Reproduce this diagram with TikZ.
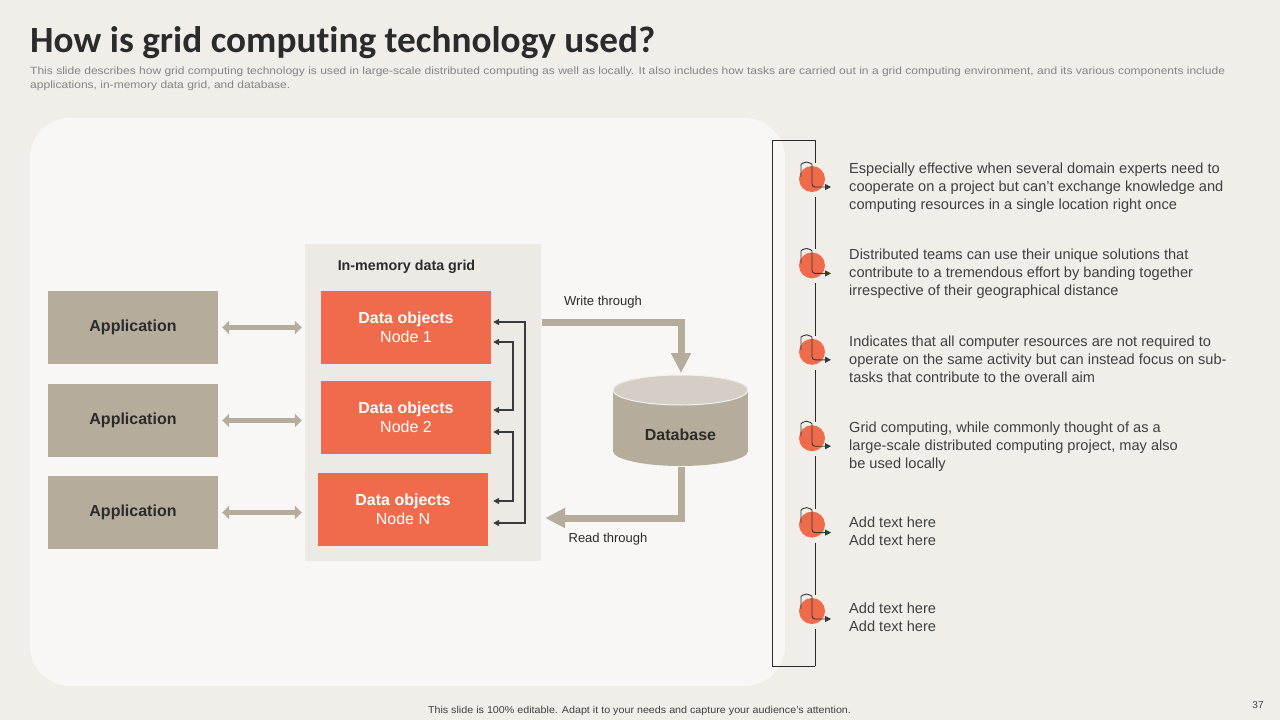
\documentclass[tikz,border=0pt]{standalone}
\usepackage{fontspec}
\setmainfont{Liberation Sans}
\newfontfamily\titlefont[Ligatures=NoCommon]{Carlito}
\usetikzlibrary{arrows.meta,calc}
\definecolor{bgc}{HTML}{F1EDE8}
\definecolor{panelc}{HTML}{F8F7F5}
\definecolor{gridc}{HTML}{EDE9E4}
\definecolor{tanc}{HTML}{B5AC9C}
\definecolor{dbtopc}{HTML}{D4CEC4}
\definecolor{orangec}{HTML}{EF6B4B}
\definecolor{darkc}{HTML}{2B2B2B}
\definecolor{connc}{HTML}{3A3A3A}
\definecolor{subc}{HTML}{858585}
\definecolor{textc}{HTML}{404040}
\definecolor{iconc}{HTML}{2F3A3A}
\newsavebox\titlebx
\newsavebox\subabx
\newsavebox\subbbx
\newsavebox\footbx
\begin{document}
\sbox\titlebx{\color{darkc}\titlefont\fontsize{37}{40}\selectfont\bfseries How is grid computing technology used?}%
\sbox\subabx{\color{subc}\fontsize{10.5}{12}\selectfont This slide describes how grid computing technology is used in large-scale distributed computing as well as locally. It also includes how tasks are carried out in a grid computing environment, and its various components include}%
\sbox\subbbx{\color{subc}\fontsize{10.5}{12}\selectfont applications, in-memory data grid, and database.}%
\sbox\footbx{\color{textc}\fontsize{10}{12}\selectfont This slide is 100\% editable. Adapt it to your needs and capture your audience's attention.}%
\pgfmathsetmacro\tsx{625/\the\wd\titlebx}%
\pgfmathsetmacro\ssx{1195/\the\wd\subabx}%
\pgfmathsetmacro\fsx{423/\the\wd\footbx}%
\begin{tikzpicture}[x=1pt,y=-1pt,
  appbox/.style={fill=tanc, minimum width=170pt, minimum height=73pt, inner sep=0pt,
    font=\fontsize{16}{19}\selectfont\bfseries, text=darkc},
  objbox/.style={fill=orangec, minimum width=170pt, minimum height=73pt, inner sep=0pt,
    font=\fontsize{16}{19}\selectfont, text=white, align=center},
  dblarrow/.style={draw=tanc, line width=5pt, {Triangle[width=13pt,length=7pt]}-{Triangle[width=13pt,length=7pt]}, shorten <=4pt, shorten >=3pt},
  fatarrow/.style={draw=tanc, line width=7pt, -{Triangle[width=19pt,length=20pt]}},
  conn/.style={draw=connc, line width=1.5pt, {Triangle[width=6pt,length=6pt]}-{Triangle[width=6pt,length=6pt]}},
  iconline/.style={draw=iconc, line width=0.9pt, -{Triangle[width=6pt,length=6pt]}},
  bracket/.style={draw=darkc, line width=1pt},
  rtext/.style={anchor=north west, inner sep=0pt, align=left, text=textc,
    font=\fontsize{14.6}{18}\selectfont},
  lbl/.style={inner sep=0pt, text=darkc, font=\fontsize{13}{15}\selectfont}
]
\useasboundingbox (0,0) rectangle (1280,720);
\fill[bgc] (0,0) rectangle (1280,720);
\fill[panelc, rounded corners=40pt] (30,118) rectangle (785,686);

% title and subtitle
\node[anchor=base west, inner sep=0pt] (title) at (30,52) {\scalebox{\tsx}[1]{\usebox\titlebx}};
\node[anchor=base west, inner sep=0pt] (sub1) at (30,74.5) {\scalebox{\ssx}[1]{\usebox\subabx}};
\node[anchor=base west, inner sep=0pt] (sub2) at (30,88) {\scalebox{\ssx}[1]{\usebox\subbbx}};

% footer
\node[anchor=base, inner sep=0pt] (foot) at (639.5,713) {\scalebox{\fsx}[1]{\usebox\footbx}};
\node[anchor=base, inner sep=0pt, text=textc, font=\fontsize{10}{12}\selectfont] (pnum) at (1258,708.5) {37};

% applications
\node[appbox] (app1) at (133,327.5) {Application};
\node[appbox] (app2) at (133,420.5) {Application};
\node[appbox] (app3) at (133,512.5) {Application};

% in-memory grid
\node[fill=gridc, minimum width=236pt, minimum height=317pt, inner sep=0pt] (grid) at (423,402.5) {};
\node[inner sep=0pt, text=darkc, font=\fontsize{14.3}{16}\selectfont\bfseries] (gridlbl) at (406.5,267) {In-memory\ data grid};
\node[objbox] (n1) at (406,327.5) {\textbf{Data objects}\\Node 1};
\node[objbox] (n2) at (406,417.5) {\textbf{Data objects}\\Node 2};
\node[objbox] (nN) at (403,509.5) {\textbf{Data objects}\\Node N};

\draw[dblarrow] (app1.east) -- (app1.east -| grid.west);
\draw[dblarrow] (app2.east) -- (app2.east -| grid.west);
\draw[dblarrow] (app3.east) -- (app3.east -| grid.west);

% node connectors
\draw[conn] ($(n1.east)+(2,-5.5)$) -- ++(32,0) |- ($(nN.east)+(5,13.5)$);
\draw[conn] ($(n1.east)+(2,14.5)$) -- ++(20,0) |- ($(n2.east)+(2,-7.5)$);
\draw[conn] ($(n2.east)+(2,14.5)$) -- ++(20,0) |- ($(nN.east)+(5,-8.5)$);

% database
\fill[tanc] (613,390) rectangle (748,451);
\fill[tanc] (680.5,451) ellipse[x radius=67.5, y radius=15];
\fill[dbtopc] (680.5,390) ellipse[x radius=67.5, y radius=15];
\draw[white!70!dbtopc, line width=1pt] (680.5,390) ellipse[x radius=67.5, y radius=15];
\node[inner sep=0pt, text=darkc, font=\fontsize{16}{19}\selectfont\bfseries] (db) at (680.5,435) {Database};
\coordinate (dbtop) at (681,373);
\coordinate (dbbot) at (681,467);

\draw[fatarrow] ($(grid.east |- n1.east)+(1,-5.5)$) -| (dbtop);
\draw[fatarrow] (dbbot) |- ($(grid.east |- nN.east)+(4,8.5)$);
\node[lbl] (wt) at (603,302) {Write through};
\node[lbl] (rt) at (608,539) {Read through};

% bracket
\coordinate (bTL) at (772,140);
\coordinate (bTR) at (815,140);
\coordinate (bBL) at (772,666);
\coordinate (bBR) at (815,666);
\draw[bracket] (bTR) -- (bTL) -- (bBL) -- (bBR);
\draw[bracket] (bTR) -- (815,163);
\foreach \a/\b in {179/265.4, 265.4/351.8, 351.8/438.2, 438.2/524.6, 524.6/611}
  \draw[bracket] (815,\a+18) -- (815,\b-16);
\draw[bracket] (815,629) -- (bBR);

% icons
\foreach \c [count=\i] in {179,265.4,351.8,438.2,524.6,611}{
  \fill[orangec] (812,\c) circle[radius=13];
  \draw[iconline, rounded corners=3pt] (801,\c-2) -- (801,\c-11.5) arc[start angle=180, end angle=360, radius=5.5] -- (812,\c+8) -- (831,\c+8);
}

% right texts
\node[rtext] (t1) at (849,162.5) {Especially effective when several domain experts need to\\cooperate on a project but can't exchange knowledge and\\computing resources in a single location right once};
\node[rtext] (t2) at (849,248.9) {Distributed teams can use their unique solutions that\\contribute to a tremendous effort by banding together\\irrespective of their geographical distance};
\node[rtext] (t3) at (849,335.3) {Indicates that all computer resources are not required to\\operate on the same activity but can instead focus on sub-\\tasks that contribute to the overall aim};
\node[rtext] (t4) at (849,421.7) {Grid computing, while commonly thought of as a\\large-scale distributed computing project, may also\\be used locally};
\node[rtext] (t5) at (849,517.1) {Add text here\\Add text here};
\node[rtext] (t6) at (849,603.1) {Add text here\\Add text here};
\end{tikzpicture}
\end{document}
